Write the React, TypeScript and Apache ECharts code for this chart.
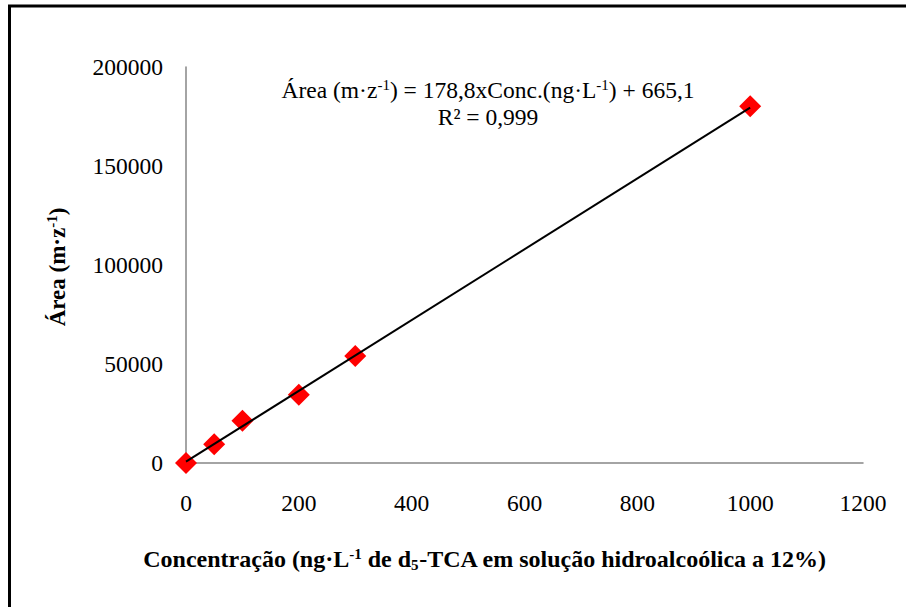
import React, { useEffect, useRef } from "react";
import * as echarts from "echarts";

const concentrations = [0, 50, 100, 200, 300, 1000];
const areas = [0, 9500, 21300, 34500, 54000, 180200];
const slope = 178.8;
const intercept = 665.1;
const trendRange = [0, 1000];
const xTicks = { min: 0, max: 1200, interval: 200 };
const yTicks = { min: 0, max: 200000, interval: 50000 };

const FONT = "Liberation Serif";

export default function App() {
  const ref = useRef<HTMLDivElement>(null);
  useEffect(() => {
    if (!ref.current) return;
    const chart = echarts.init(ref.current, null, { renderer: "svg" });
    const points = concentrations.map((c, i) => [c, areas[i]]);
    const trend = trendRange.map((x) => [x, slope * x + intercept]);
    const sup = { fontSize: 15, fontFamily: FONT, verticalAlign: "top", lineHeight: 26, fill: "#000" };
    chart.setOption({
      animation: false,
      backgroundColor: "#fff",
      textStyle: { fontFamily: FONT },
      grid: { left: 186, top: 67, width: 677, height: 396, containLabel: false },
      xAxis: {
        type: "value",
        min: xTicks.min,
        max: xTicks.max,
        interval: xTicks.interval,
        axisLine: { show: true, onZero: false, lineStyle: { color: "#868686", width: 1.5 } },
        axisTick: { show: false },
        splitLine: { show: false },
        axisLabel: { color: "#000", fontFamily: FONT, fontSize: 23.5, margin: 28, formatter: (v: number) => String(v) },
      },
      yAxis: {
        type: "value",
        min: yTicks.min,
        max: yTicks.max,
        interval: yTicks.interval,
        axisLine: { show: true, onZero: false, lineStyle: { color: "#868686", width: 1.5 } },
        axisTick: { show: false },
        splitLine: { show: false },
        axisLabel: { color: "#000", fontFamily: FONT, fontSize: 23.5, margin: 23, formatter: (v: number) => String(v) },
      },
      series: [
        {
          type: "scatter",
          data: points,
          symbol: "diamond",
          symbolSize: 22,
          itemStyle: { color: "#ff0000", opacity: 1 },
          z: 2,
        },
        {
          type: "line",
          data: trend,
          showSymbol: false,
          symbol: "none",
          lineStyle: { color: "#000", width: 2 },
          z: 3,
        },
      ],
      graphic: [
        {
          type: "rect",
          shape: { x: 9.5, y: 6, width: 1000, height: 800 },
          style: { fill: "none", stroke: "#000", lineWidth: 3 },
          silent: true,
          z: 10,
        },
        {
          type: "text",
          x: 488,
          y: 90,
          style: {
            text: "Área (m·z{sup|-1}) = 178,8xConc.(ng·L{sup|-1}) + 665,1",
            fontFamily: FONT,
            fontSize: 23.5,
            fill: "#000",
            align: "center",
            verticalAlign: "middle",
            rich: { sup },
          },
        },
        {
          type: "text",
          x: 488,
          y: 117,
          style: {
            text: "R² = 0,999",
            fontFamily: FONT,
            fontSize: 23.5,
            fill: "#000",
            align: "center",
            verticalAlign: "middle",
          },
        },
        {
          type: "text",
          x: 485,
          y: 559,
          style: {
            text: "Concentração (ng·L{sup|-1} de d{sub|5}-TCA em solução hidroalcoólica a 12%)",
            fontFamily: FONT,
            fontSize: 24,
            fontWeight: "bold",
            fill: "#000",
            align: "center",
            verticalAlign: "middle",
            rich: {
              sup: { ...sup, fontWeight: "bold" },
              sub: { fontSize: 15, fontFamily: FONT, fontWeight: "bold", verticalAlign: "bottom", lineHeight: 26, fill: "#000" },
            },
          },
        },
        {
          type: "text",
          x: 57,
          y: 267,
          rotation: Math.PI / 2,
          style: {
            text: "Área (m·z{sup|-1})",
            fontFamily: FONT,
            fontSize: 23,
            fontWeight: "bold",
            fill: "#000",
            align: "center",
            verticalAlign: "middle",
            rich: { sup: { ...sup, fontWeight: "bold" } },
          },
        },
      ],
    });
    return () => chart.dispose();
  }, []);
  return (
    <div
      ref={ref}
      style={{ position: "absolute", left: 0, top: 0, width: 906, height: 607 }}
    />
  );
}
